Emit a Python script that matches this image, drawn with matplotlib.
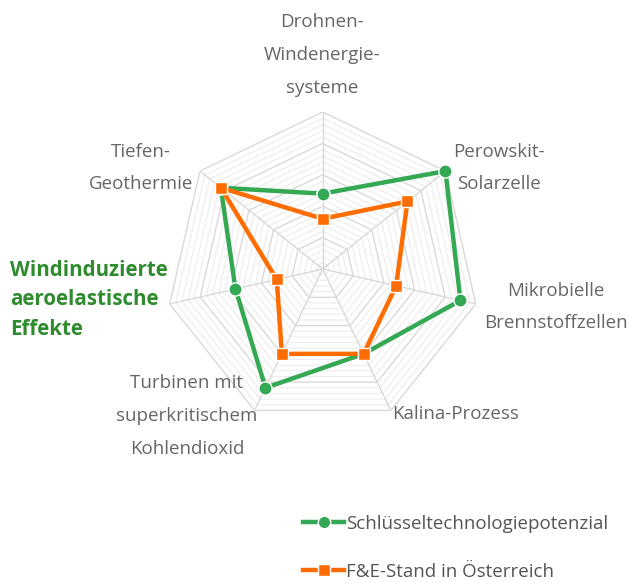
import numpy as np
import matplotlib
matplotlib.use("Agg")
import matplotlib.pyplot as plt
from matplotlib.lines import Line2D

plt.rcParams['font.family'] = ['Open Sans', 'DejaVu Sans']

categories = ["Drohnen-\nWindenergie-\nsysteme", "Perowskit-\nSolarzelle",
              "Mikrobielle\nBrennstoffzellen", "Kalina-Prozess",
              "Turbinen mit\nsuperkritischem\nKohlendioxid",
              "Windinduzierte\naeroelastische\nEffekte", "Tiefen-\nGeothermie"]
series_names = ["Schlüsseltechnologiepotenzial", "F&E-Stand in Österreich"]
potenzial = [48, 100, 90, 60, 84, 57, 83]
fe_stand = [32, 69, 48, 60, 60, 30, 83]
max_value = 100

W, H = 630, 582
fig = plt.figure(figsize=(W / 100, H / 100), dpi=100)
cx, cy, R = 322.7, 269.0, 157.0
ax = fig.add_axes([(cx - R) / W, (H - cy - R) / H, 2 * R / W, 2 * R / H], polar=True)
ax.set_theta_offset(np.pi / 2)
ax.set_theta_direction(-1)
ax.set_ylim(0, max_value)
ax.grid(False)
ax.spines['polar'].set_visible(False)
ax.set_xticks([])
ax.set_yticks([])
ax.patch.set_alpha(0)

n = len(categories)
angles = np.linspace(0, 2 * np.pi, n, endpoint=False)
closed = np.concatenate([angles, angles[:1]])

# minor rings
for lvl in np.arange(4, max_value, 4):
    if lvl % 20 == 0:
        continue
    ax.plot(closed, [lvl] * (n + 1), color="#ececec", lw=0.8, zorder=1)
# major rings
for lvl in range(20, max_value + 1, 20):
    ax.plot(closed, [lvl] * (n + 1), color="#d9d9d9", lw=1.0, zorder=2)
for a in angles:
    ax.plot([a, a], [0, max_value], color="#d9d9d9", lw=1.0, zorder=2)

green = "#34a853"
orange = "#ff6d00"
ax.plot(closed, potenzial + potenzial[:1], color=green, lw=3.2, marker='o',
        markersize=9.5, markerfacecolor=green, markeredgecolor='white',
        markeredgewidth=1.0, zorder=5, clip_on=False)
ax.plot(closed, fe_stand + fe_stand[:1], color=orange, lw=3.2, marker='s',
        markersize=9, markerfacecolor=orange, markeredgecolor='white',
        markeredgewidth=1.0, zorder=6, clip_on=False)

# category labels (pixel positions)
label_pos = [
    (322, 55, 'center'),
    (499, 168, 'center'),
    (556, 307, 'center'),
    (392, 414, 'left'),
    (187, 416, 'center'),
    (10, 300, 'left'),
    (141, 168, 'center'),
]
for i, (lab, (x, y, ha)) in enumerate(zip(categories, label_pos)):
    hl = i == 5
    fig.text(x / W, 1 - y / H, lab, ha=ha, va='center',
             fontsize=14.8 if hl else 13.5,
             color="#2e8b2e" if hl else "#666666",
             fontweight='bold' if hl else 'normal',
             linespacing=2.05 if not hl else 1.52)

handles = [Line2D([], [], color=green, lw=3.2, marker='o', markersize=9,
                  markerfacecolor=green, markeredgecolor='white'),
           Line2D([], [], color=orange, lw=3.2, marker='s', markersize=8.5,
                  markerfacecolor=orange, markeredgecolor='white')]
fig.legend(handles, series_names, loc='upper left',
           bbox_to_anchor=(303 / W, 1 - 515 / H), frameon=False,
           fontsize=13.5, labelcolor="#555555", handlelength=2.2,
           handletextpad=0.12, labelspacing=1.6, borderpad=0, borderaxespad=0)

fig.savefig("out.png", dpi=100)
